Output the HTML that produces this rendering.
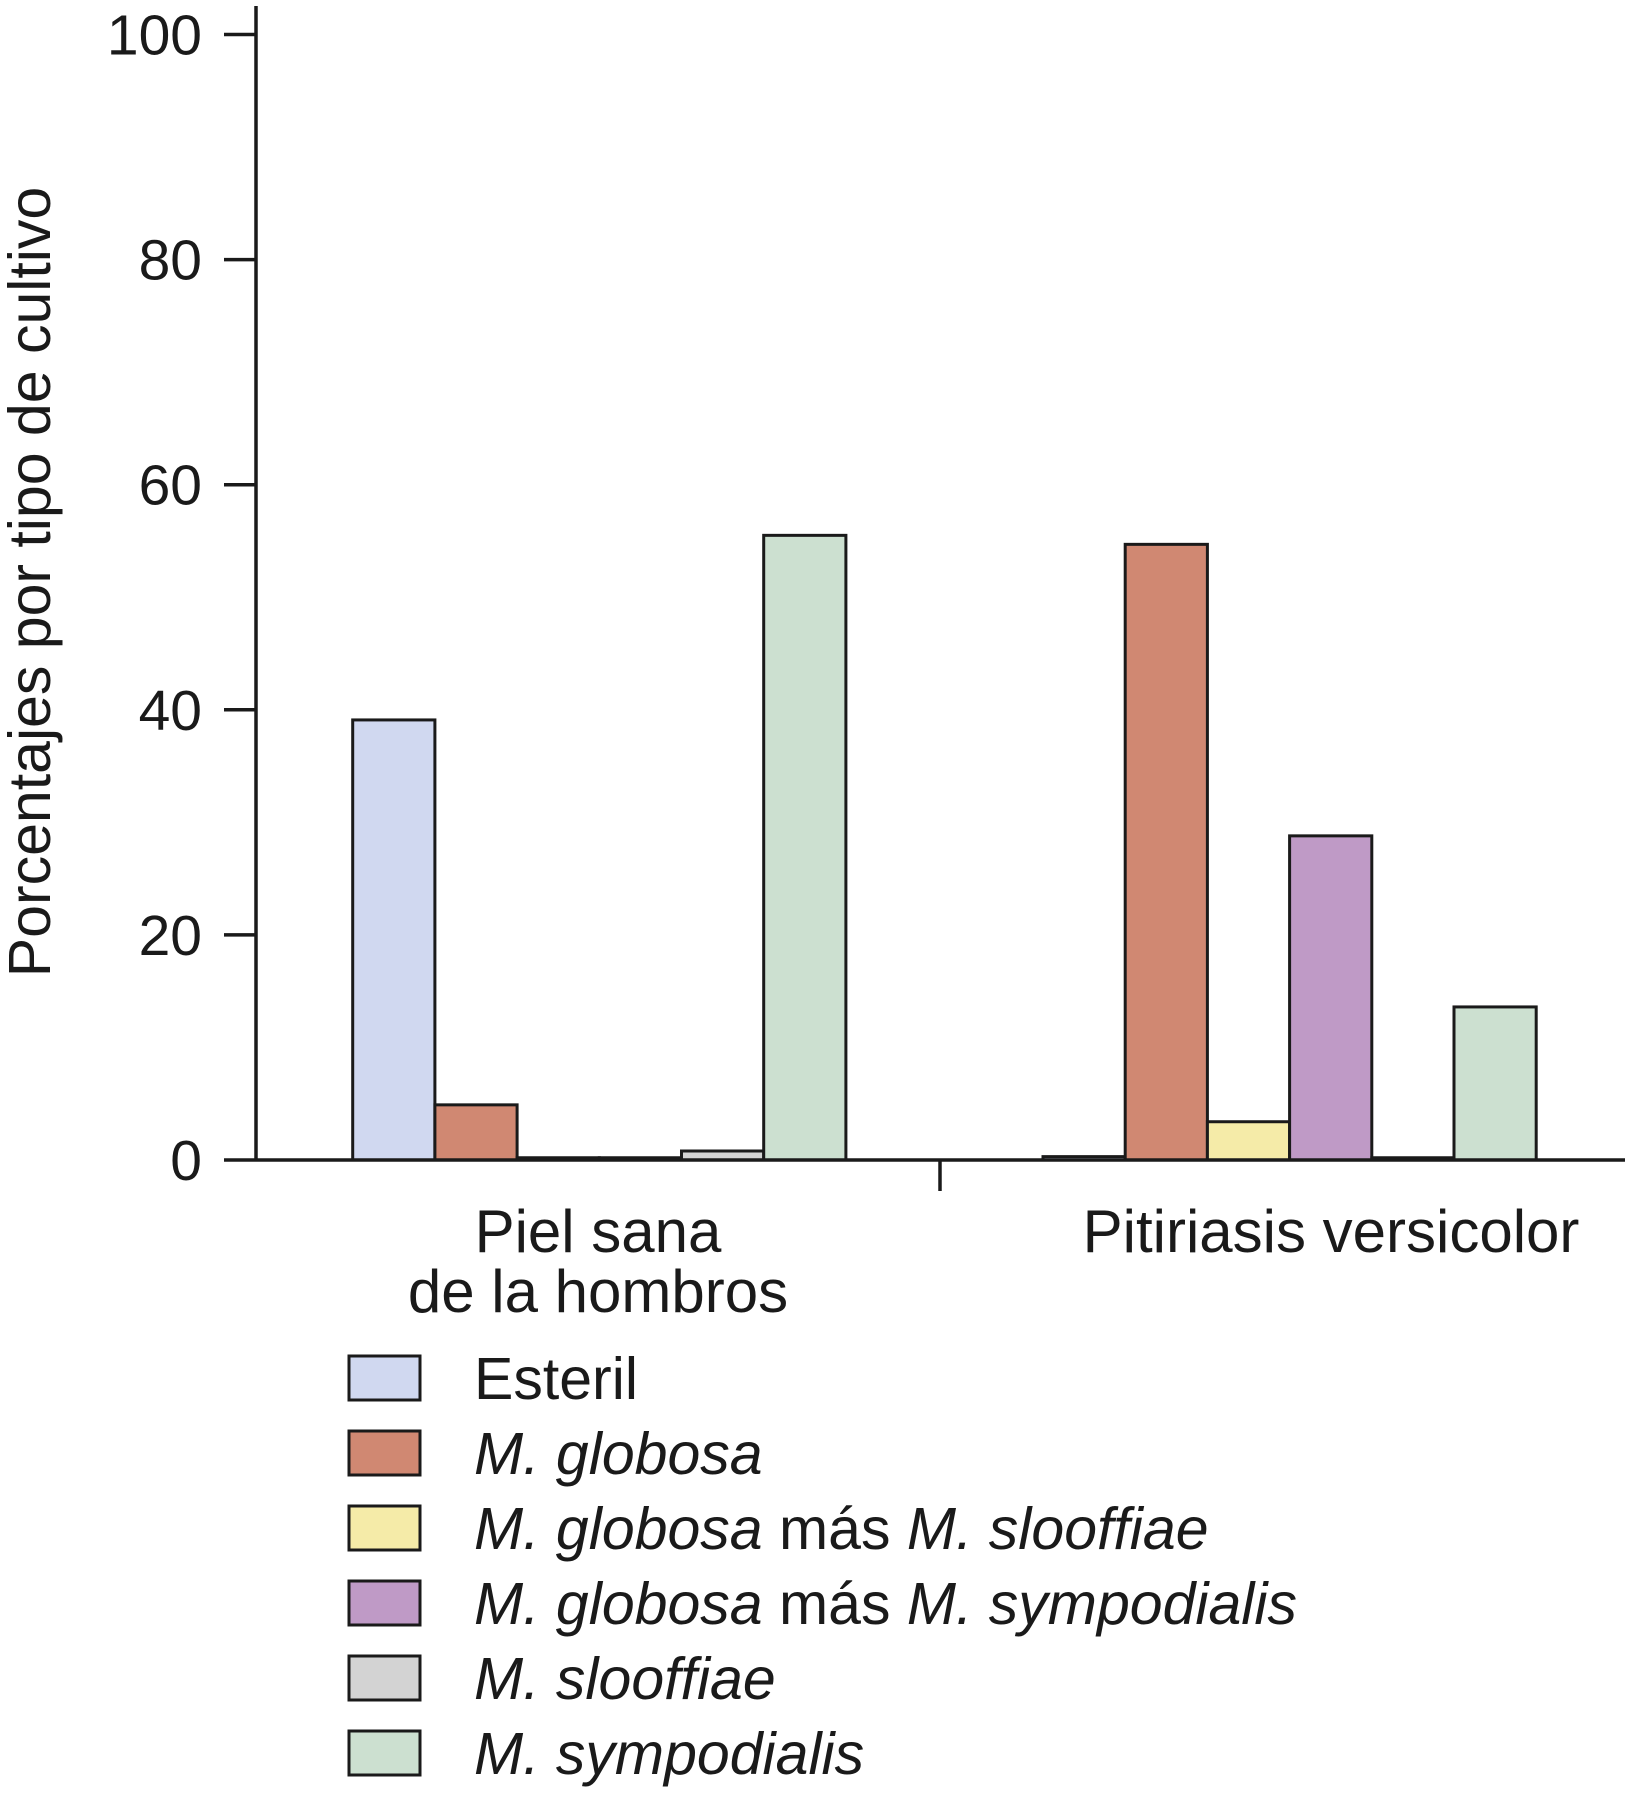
<!DOCTYPE html>
<html><head><meta charset="utf-8">
<style>
html,body{margin:0;padding:0;background:#fff;}
svg{display:block;font-family:"Liberation Sans",Arial,sans-serif;}
</style></head>
<body>
<svg id="chart" width="1625" height="1795" viewBox="0 0 1625 1795" xmlns="http://www.w3.org/2000/svg">
<g id="bars"></g>
<g id="axes"></g>
<g id="legend"></g>
</svg>
<script>
const categories = ["Piel sana|de la hombros", "Pitiriasis versicolor"];
const seriesNames = ["Esteril", "M. globosa", "M. globosa más M. slooffiae", "M. globosa más M. sympodialis", "M. slooffiae", "M. sympodialis"];
const esteril = [39.1, 0.3];
const globosa = [4.9, 54.7];
const globosaSlooffiae = [0.2, 3.4];
const globosaSympodialis = [0.2, 28.8];
const slooffiae = [0.8, 0.2];
const sympodialis = [55.5, 13.6];
const yTicks = [0, 20, 40, 60, 80, 100];

const series = [esteril, globosa, globosaSlooffiae, globosaSympodialis, slooffiae, sympodialis];
const colors = ["#d0d8f0", "#d08872", "#f5eba8", "#bf9ac6", "#d3d3d3", "#cce0d0"];
const NS = "http://www.w3.org/2000/svg";
const y0 = 1160, pxPer = 11.255, axisX = 256;
function yScale(v){ return y0 - v*pxPer; }
const groupStart = [352.7, 1043];
const barW = 82.2;
function xScale(g, s){ return groupStart[g] + s*barW; }
function mk(tag, attrs, parent){ const e=document.createElementNS(NS,tag); for(const k in attrs) e.setAttribute(k,attrs[k]); parent.appendChild(e); return e; }

const barsG = document.getElementById('bars');
series.forEach((vals, s) => {
  vals.forEach((v, g) => {
    const r = mk('rect', {x:xScale(g,s), y:yScale(v), width:barW, height:y0-yScale(v), fill:colors[s], stroke:'#1a1a1a', 'stroke-width':3}, barsG);
    
    
  });
});

const ax = document.getElementById('axes');
const yl = mk('line', {x1:axisX, y1:6, x2:axisX, y2:y0, stroke:'#1a1a1a', 'stroke-width':3.5}, ax);


const xl = mk('line', {x1:axisX, y1:y0, x2:1625, y2:y0, stroke:'#1a1a1a', 'stroke-width':3.5}, ax);


const mt = mk('line', {x1:940, y1:y0, x2:940, y2:1191, stroke:'#1a1a1a', 'stroke-width':3.5}, ax);


yTicks.forEach(t => {
  const tl = mk('line', {x1:224, y1:yScale(t), x2:axisX, y2:yScale(t), stroke:'#1a1a1a', 'stroke-width':3.5}, ax);
  
  
  const tx = mk('text', {x:202, y:yScale(t)+20, 'text-anchor':'end', 'font-size':57, fill:'#1a1a1a'}, ax);
  tx.textContent = t;
  
  
});
const yt = mk('text', {x:0, y:0, transform:'translate(50,582) rotate(-90)', 'text-anchor':'middle', 'font-size':59, fill:'#1a1a1a'}, ax);
yt.textContent = 'Porcentajes por tipo de cultivo';


const catX = [598, 1331];
categories.forEach((c, i) => {
  c.split('|').forEach((line, j) => {
    const t = mk('text', {x:catX[i], y:1252 + j*60, 'text-anchor':'middle', 'font-size':60, fill:'#1a1a1a'}, ax);
    t.textContent = line;
    
    
  });
});

const lg = document.getElementById('legend');
const legendHTML = [
  'Esteril',
  '<tspan font-style="italic">M. globosa</tspan>',
  '<tspan font-style="italic">M. globosa</tspan> más <tspan font-style="italic">M. slooffiae</tspan>',
  '<tspan font-style="italic">M. globosa</tspan> más <tspan font-style="italic">M. sympodialis</tspan>',
  '<tspan font-style="italic">M. slooffiae</tspan>',
  '<tspan font-style="italic">M. sympodialis</tspan>'
];
seriesNames.forEach((n, i) => {
  const cy = 1378 + i*75;
  const sw = mk('rect', {x:349, y:cy-22, width:71, height:44, fill:colors[i], stroke:'#1a1a1a', 'stroke-width':3}, lg);
  
  
  const t = mk('text', {x:474, y:cy+21, 'font-size':59, fill:'#1a1a1a'}, lg);
  t.innerHTML = legendHTML[i];
  
  
});
</script>
</body></html>
